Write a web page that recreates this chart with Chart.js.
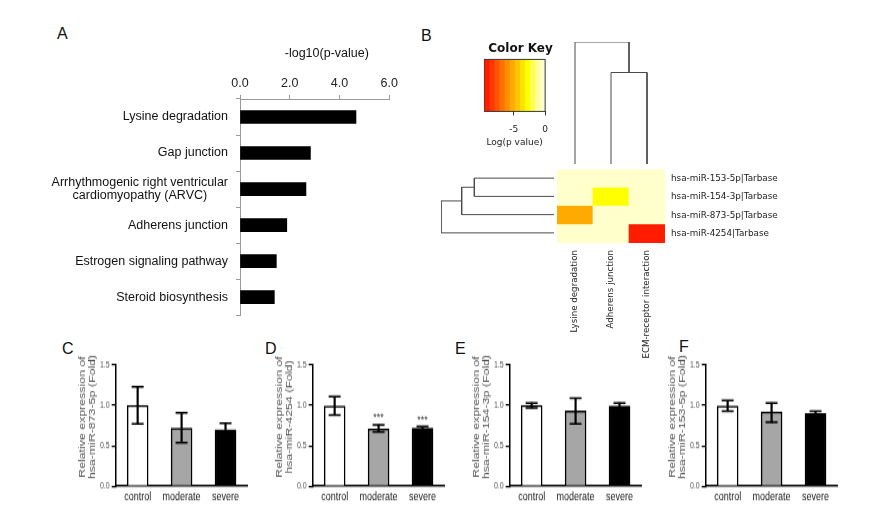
<!DOCTYPE html>
<html><head><meta charset="utf-8">
<script src="https://cdn.jsdelivr.net/npm/chart.js@4.4.1/dist/chart.umd.min.js"></script>
<style>
html,body{margin:0;padding:0;background:#fff;}
#root{position:relative;width:870px;height:508px;overflow:hidden;background:#fff;}
.lbl{position:absolute;font-family:'Liberation Sans',Arial,sans-serif;font-size:16px;line-height:16px;color:#111;}
canvas{position:absolute;}
</style></head><body><div id="root">
<div class="lbl" style="left:57px;top:26px">A</div>
<div class="lbl" style="left:421px;top:28px">B</div>
<div class="lbl" style="left:62px;top:341px">C</div>
<div class="lbl" style="left:265px;top:341px">D</div>
<div class="lbl" style="left:455px;top:341px">E</div>
<div class="lbl" style="left:679px;top:339px">F</div>
</div>
<script>
// ---------------- DATA ----------------
// Panel A
const pathwaysA = ['Lysine degradation', 'Gap junction',
  ['Arrhythmogenic right ventricular', 'cardiomyopathy (ARVC)      '],
  'Adherens junction', 'Estrogen signaling pathway', 'Steroid biosynthesis'];
const negLog10P = [4.66, 2.83, 2.65, 1.88, 1.46, 1.38];
const ticksA = [0, 2, 4, 6];

// Panel B (heatmap)
const pathwaysB = ['Lysine degradation', 'Adherens junction', 'ECM-receptor interaction'];
const mirnasB = ['hsa-miR-153-5p|Tarbase', 'hsa-miR-154-3p|Tarbase', 'hsa-miR-873-5p|Tarbase', 'hsa-miR-4254|Tarbase'];
const logP153 = [0, 0, 0];
const logP154 = [0, -2.8, 0];
const logP873 = [-5.2, 0, 0];
const logP4254 = [0, 0, -9.0];
const keyBreaks = [-9.7, -8.89, -8.08, -7.28, -6.47, -5.66, -4.85, -4.04, -3.23, -2.43, -1.62, -0.81, 0];
const keyTicks = [-5, 0];
const colMerges = [[1, 2, 0.75], [0, 3, 1.0]];          // node a, node b, merge height
const rowMerges = [[0, 1, 0.705], [4, 2, 0.817], [5, 3, 1.0]];

// Panels C-F
const groups = ['control', 'moderate', 'severe'];
const ticksCF = [0, 0.5, 1.0, 1.5];
const mean873 = [1.00, 0.72, 0.70], hi873 = [1.23, 0.91, 0.78], lo873 = [0.77, 0.54, 0.63];
const mean4254 = [0.99, 0.71, 0.72], hi4254 = [1.11, 0.76, 0.74], lo4254 = [0.88, 0.67, 0.70];
const mean154 = [1.00, 0.93, 0.99], hi154 = [1.03, 1.09, 1.03], lo154 = [0.97, 0.77, 0.95];
const mean153 = [0.99, 0.92, 0.90], hi153 = [1.06, 1.03, 0.93], lo153 = [0.93, 0.79, 0.87];
const stars4254 = ['', '***', '***'];

// ---------------- STYLE ----------------
const F_ARIAL = "'Liberation Sans', Arial, sans-serif";
const F_DEJA = "'DejaVu Sans', sans-serif";
const keyColors = ['#FF1C00', '#FF3800', '#FF5500', '#FF7100', '#FF8D00', '#FFAA00', '#FFC600',
  '#FFE200', '#FFFF00', '#FFFF55', '#FFFFA0', '#FFFFCC'];
const barFills = ['#FFFFFF', '#A6A6A6', '#000000'];
Chart.defaults.font.family = F_ARIAL;

function colorFor(v) {
  for (let i = 0; i < keyColors.length; i++) {
    if (v >= keyBreaks[i] && v < keyBreaks[i + 1]) return keyColors[i];
  }
  return keyColors[keyColors.length - 1];
}

function base(extra) {
  return Object.assign({
    responsive: false, maintainAspectRatio: false, devicePixelRatio: 1, animation: false, events: [],
    layout: { padding: 0 }
  }, extra);
}
const noPlug = { legend: { display: false }, tooltip: { enabled: false } };

const root = document.getElementById('root');
function mount(make, box, sy) {
  sy = sy || 1;
  const hIn = box.h / sy;
  let W = Math.round(box.w + 220), H = Math.round(hIn + 220), chart, cv;
  for (let pass = 0; pass < 4; pass++) {
    cv = document.createElement('canvas');
    cv.width = W; cv.height = H;
    cv.style.width = W + 'px'; cv.style.height = H + 'px';
    root.appendChild(cv);
    chart = new Chart(cv, make());
    const ca = chart.chartArea;
    const W2 = Math.round(box.w + ca.left + (W - ca.right));
    const H2 = Math.round(hIn + ca.top + (H - ca.bottom));
    if ((W2 === W && H2 === H) || pass === 3) break;
    chart.destroy(); cv.remove();
    W = W2; H = H2;
  }
  const ca = chart.chartArea;
  cv.style.left = (box.l - ca.left) + 'px';
  cv.style.top = (box.t - ca.top * sy) + 'px';
  if (sy !== 1) { cv.style.transformOrigin = '0 0'; cv.style.transform = 'scaleY(' + sy + ')'; }
  return chart;
}

// ---------------- PANEL A ----------------
mount(() => ({
  type: 'bar',
  data: { labels: pathwaysA, datasets: [{ data: negLog10P, backgroundColor: '#000', barThickness: 13 }] },
  options: base({
    indexAxis: 'y',
    plugins: noPlug,
    scales: {
      x: {
        position: 'top', min: 0, max: 6,
        afterBuildTicks: s => { s.ticks = ticksA.map(v => ({ value: v })); },
        ticks: { callback: v => Number(v).toFixed(1), font: { size: 12.5 }, color: '#222', padding: 4 },
        grid: { drawOnChartArea: false, tickLength: 4, color: '#999' },
        border: { color: '#999' },
        title: { display: true, text: '       -log10(p-value)', font: { size: 12.5 }, color: '#111', padding: { top: 0, bottom: 11 } }
      },
      y: {
        afterFit: s => { s.width = 192; },
        ticks: { font: { size: 12.5, lineHeight: 1.1 }, color: '#111', padding: 8, autoSkip: false },
        grid: { offset: true, drawOnChartArea: false, tickLength: 4, color: '#999' },
        border: { color: '#999' }
      }
    }
  })
}), { l: 240, t: 99, w: 149.3, h: 216 });

// ---------------- PANEL B ----------------
const framePlugin = {
  id: 'frame',
  afterDraw(chart) {
    const { ctx, chartArea: a } = chart;
    ctx.save(); ctx.strokeStyle = '#333'; ctx.lineWidth = 1;
    ctx.strokeRect(a.left, a.top, a.right - a.left, a.bottom - a.top);
    ctx.restore();
  }
};

// Color key
mount(() => ({
  type: 'bar',
  data: {
    labels: [''],
    datasets: keyColors.map((c, i) => ({
      data: [[keyBreaks[i], keyBreaks[i + 1]]], backgroundColor: c, borderWidth: 0,
      barPercentage: 1, categoryPercentage: 1, grouped: false
    }))
  },
  options: base({
    indexAxis: 'y',
    plugins: Object.assign({
      title: { display: true, text: 'Color Key', font: { family: F_DEJA, size: 12, weight: 'bold' }, color: '#111', padding: { top: 0, bottom: 3 } }
    }, noPlug),
    scales: {
      x: {
        min: keyBreaks[0], max: 0,
        afterBuildTicks: s => { s.ticks = keyTicks.map(v => ({ value: v })); },
        ticks: { font: { family: F_DEJA, size: 9 }, color: '#222', padding: 9 },
        grid: { drawOnChartArea: false, tickLength: 4, color: '#333' },
        border: { display: false },
        title: { display: true, text: 'Log(p value)', font: { family: F_DEJA, size: 9 }, color: '#222', padding: { top: -7, bottom: 0 } }
      },
      y: { display: false }
    }
  }),
  plugins: [framePlugin]
}), { l: 484.3, t: 59.3, w: 61.4, h: 52.4 });

// Heatmap
const heatRows = [logP153, logP154, logP873, logP4254];
mount(() => ({
  type: 'bar',
  data: {
    labels: pathwaysB,
    datasets: heatRows.slice().reverse().map(row => ({
      data: row.map(() => 1),
      backgroundColor: row.map(colorFor),
      borderWidth: 0, barPercentage: 1, categoryPercentage: 1
    }))
  },
  options: base({
    plugins: noPlug,
    scales: {
      x: {
        stacked: true,
        afterFit: s => { s.height = 115; },
        ticks: { minRotation: 90, maxRotation: 90, autoSkip: false, font: { family: F_DEJA, size: 8.7 }, color: '#222', padding: 7 },
        grid: { display: false, drawTicks: false }, border: { display: false }
      },
      y: {
        stacked: true, position: 'right', min: 0, max: mirnasB.length,
        afterFit: s => { s.width = 130; },
        afterBuildTicks: s => { s.ticks = mirnasB.map((m, i) => ({ value: i + 0.5 })); },
        ticks: { callback: (v, i) => mirnasB[mirnasB.length - 1 - i], font: { family: F_DEJA, size: 8.8 }, color: '#222', padding: 6 },
        grid: { display: false, drawTicks: false }, border: { display: false }
      }
    }
  })
}), { l: 557.3, t: 169.3, w: 108.4, h: 73.4 });

// Dendrograms
function dendroSegments(merges, leafPos, vertical) {
  const nodes = leafPos.map(p => ({ p: p, h: 0 }));
  const sets = [];
  merges.forEach(m => {
    const a = nodes[m[0]], b = nodes[m[1]], h = m[2];
    const pts = [[a.p, a.h], [a.p, h], [b.p, h], [b.p, b.h]];
    sets.push({
      data: pts.map(q => vertical ? { x: q[0], y: q[1] } : { x: q[1], y: q[0] }),
      showLine: true, pointRadius: 0, borderColor: '#4a4a4a', borderWidth: 1, tension: 0, clip: false
    });
    nodes.push({ p: (a.p + b.p) / 2, h: h });
  });
  return sets;
}
mount(() => ({
  type: 'scatter',
  data: { datasets: dendroSegments(colMerges, pathwaysB.map((c, i) => i), true) },
  options: base({
    plugins: noPlug,
    scales: { x: { display: false, min: -0.5, max: pathwaysB.length - 0.5 }, y: { display: false, min: 0, max: 1 } }
  })
}), { l: 557.3, t: 41.7, w: 108.4, h: 122.3 });
mount(() => ({
  type: 'scatter',
  data: { datasets: dendroSegments(rowMerges, mirnasB.map((m, i) => mirnasB.length - 0.5 - i), false) },
  options: base({
    plugins: noPlug,
    scales: { x: { display: false, min: 0, max: 1, reverse: true }, y: { display: false, min: 0, max: mirnasB.length } }
  })
}), { l: 441, t: 169.3, w: 113, h: 73.4 });

// ---------------- PANELS C-F ----------------
const starsPlugin = {
  id: 'stars',
  afterDatasetsDraw(chart, args, opts) {
    if (!opts || !opts.marks) return;
    const { ctx } = chart, x = chart.scales.x, y = chart.scales.y;
    ctx.save();
    ctx.font = '9px ' + F_ARIAL; ctx.fillStyle = '#444'; ctx.textAlign = 'center'; ctx.textBaseline = 'middle';
    opts.marks.forEach((m, i) => { if (m) ctx.fillText(m, x.getPixelForValue(i), y.getPixelForValue(opts.tops[i]) - 5); });
    ctx.restore();
  }
};
const SY = 1.3;
function exprChart(means, his, los, titleLines, stars) {
  return () => ({
    type: 'bar',
    data: {
      labels: groups,
      datasets: [
        { type: 'line', data: his, showLine: false, pointStyle: 'line', pointRadius: 6, pointBorderWidth: 1.5, pointBorderColor: '#000' },
        { type: 'line', data: los, showLine: false, pointStyle: 'line', pointRadius: 6, pointBorderWidth: 1.5, pointBorderColor: '#000' },
        { type: 'bar', data: groups.map((g, i) => [los[i], his[i]]), backgroundColor: '#000', barThickness: 1.5, grouped: false, borderWidth: 0 },
        { type: 'bar', data: means, backgroundColor: barFills, borderColor: '#000', borderWidth: 1.5, barThickness: 21, grouped: false }
      ]
    },
    options: base({
      layout: { padding: { top: 30, bottom: 2, left: 0, right: 4 } },
      plugins: Object.assign({ stars: { marks: stars, tops: his } }, noPlug),
      scales: {
        x: {
          ticks: { font: { size: 9 }, color: '#222', padding: 3, minRotation: 0, maxRotation: 0, autoSkip: false },
          grid: { display: false, drawTicks: false }, border: { color: '#000', width: 1.5 }
        },
        y: {
          min: 0, max: 1.5,
          afterBuildTicks: s => { s.ticks = ticksCF.map(v => ({ value: v })); },
          ticks: { callback: v => Number(v).toFixed(1), font: { size: 7 }, color: '#555', padding: 2 },
          grid: { drawOnChartArea: false, tickLength: 4, color: '#000', lineWidth: 1.2 },
          border: { color: '#000', width: 1.5 },
          title: { display: true, text: titleLines, font: { size: 9.5, lineHeight: 1.05 }, color: '#555', padding: { top: 0, bottom: 1 } }
        }
      }
    }),
    plugins: [starsPlugin]
  });
}
const pad = '     ';
mount(exprChart(mean873, hi873, lo873, [pad + 'Relative expression of', pad + 'hsa-miR-873-5p (Fold)'], null), { l: 116, t: 364.5, w: 132, h: 121 }, SY);
mount(exprChart(mean4254, hi4254, lo4254, [pad + 'Relative expression of', pad + 'hsa-miR-4254 (Fold)'], stars4254), { l: 313, t: 364.5, w: 132, h: 121 }, SY);
mount(exprChart(mean154, hi154, lo154, [pad + 'Relative expression of', pad + 'hsa-miR-154-3p (Fold)'], null), { l: 510, t: 364.5, w: 132, h: 121 }, SY);
mount(exprChart(mean153, hi153, lo153, [pad + 'Relative expression of', pad + 'hsa-miR-153-5p (Fold)'], null), { l: 706, t: 364.5, w: 132, h: 121 }, SY);
</script>
</body></html>
